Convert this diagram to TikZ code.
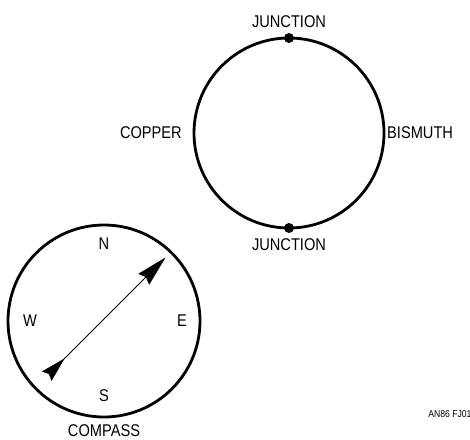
\documentclass[tikz,border=0pt]{standalone}
\usepackage{fontspec}
\setmainfont[FakeStretch=0.86]{Liberation Sans}
\begin{document}
\begin{tikzpicture}[x=1pt,y=-1pt,
  lbl/.style={inner sep=0pt,font=\fontsize{17}{17}\selectfont},
  ring/.style={line width=2.8pt},
  jdot/.style={circle,fill=black,inner sep=0pt,minimum size=10pt},
  needle/.style={line width=0.9pt},
  tipshape/.style={fill=black,draw=black,line width=0.3pt,line join=miter}]
\useasboundingbox (0,0) rectangle (470,439);
% thermocouple loop
\node[circle,draw,ring,minimum size=190pt,inner sep=0pt] (loop) at (289,133) {};
\node[jdot] (jt) at (289,38) {};
\node[jdot] (jb) at (289,228) {};
\node[lbl,anchor=south] (ltop) at (289,28) {JUNCTION};
\node[lbl,anchor=north] (lbot) at (289,238) {JUNCTION};
\node[lbl,anchor=east] (cu) at (182,133) {COPPER};
\node[lbl,anchor=west] (bi) at (387,133) {BISMUTH};
% compass
\node[circle,draw,ring,minimum size=192pt,inner sep=0pt] (comp) at (104,321) {};
\node[lbl] (n) at (104,244) {N};
\node[lbl] (w) at (30,321) {W};
\node[lbl] (e) at (182,321) {E};
\node[lbl] (s) at (104,396) {S};
\node[lbl,anchor=base] (cl) at (104,436) {COMPASS};
% needle
\coordinate (tail) at (49,374);
\coordinate (head) at (146,277);
\draw[needle] (tail) -- (head);
\fill[tipshape] (165,258) -- (138.6,273.8) -- (146,277) -- (149.2,284.4) -- cycle;
\fill[tipshape] (64,359) -- (42.4,371.4) -- (49.1,373.9) -- (51.6,380.6) -- cycle;
\node[inner sep=0pt,font=\fontsize{10}{10}\selectfont] (id) at (450,414) {AN86 FJ01};
\end{tikzpicture}
\end{document}
